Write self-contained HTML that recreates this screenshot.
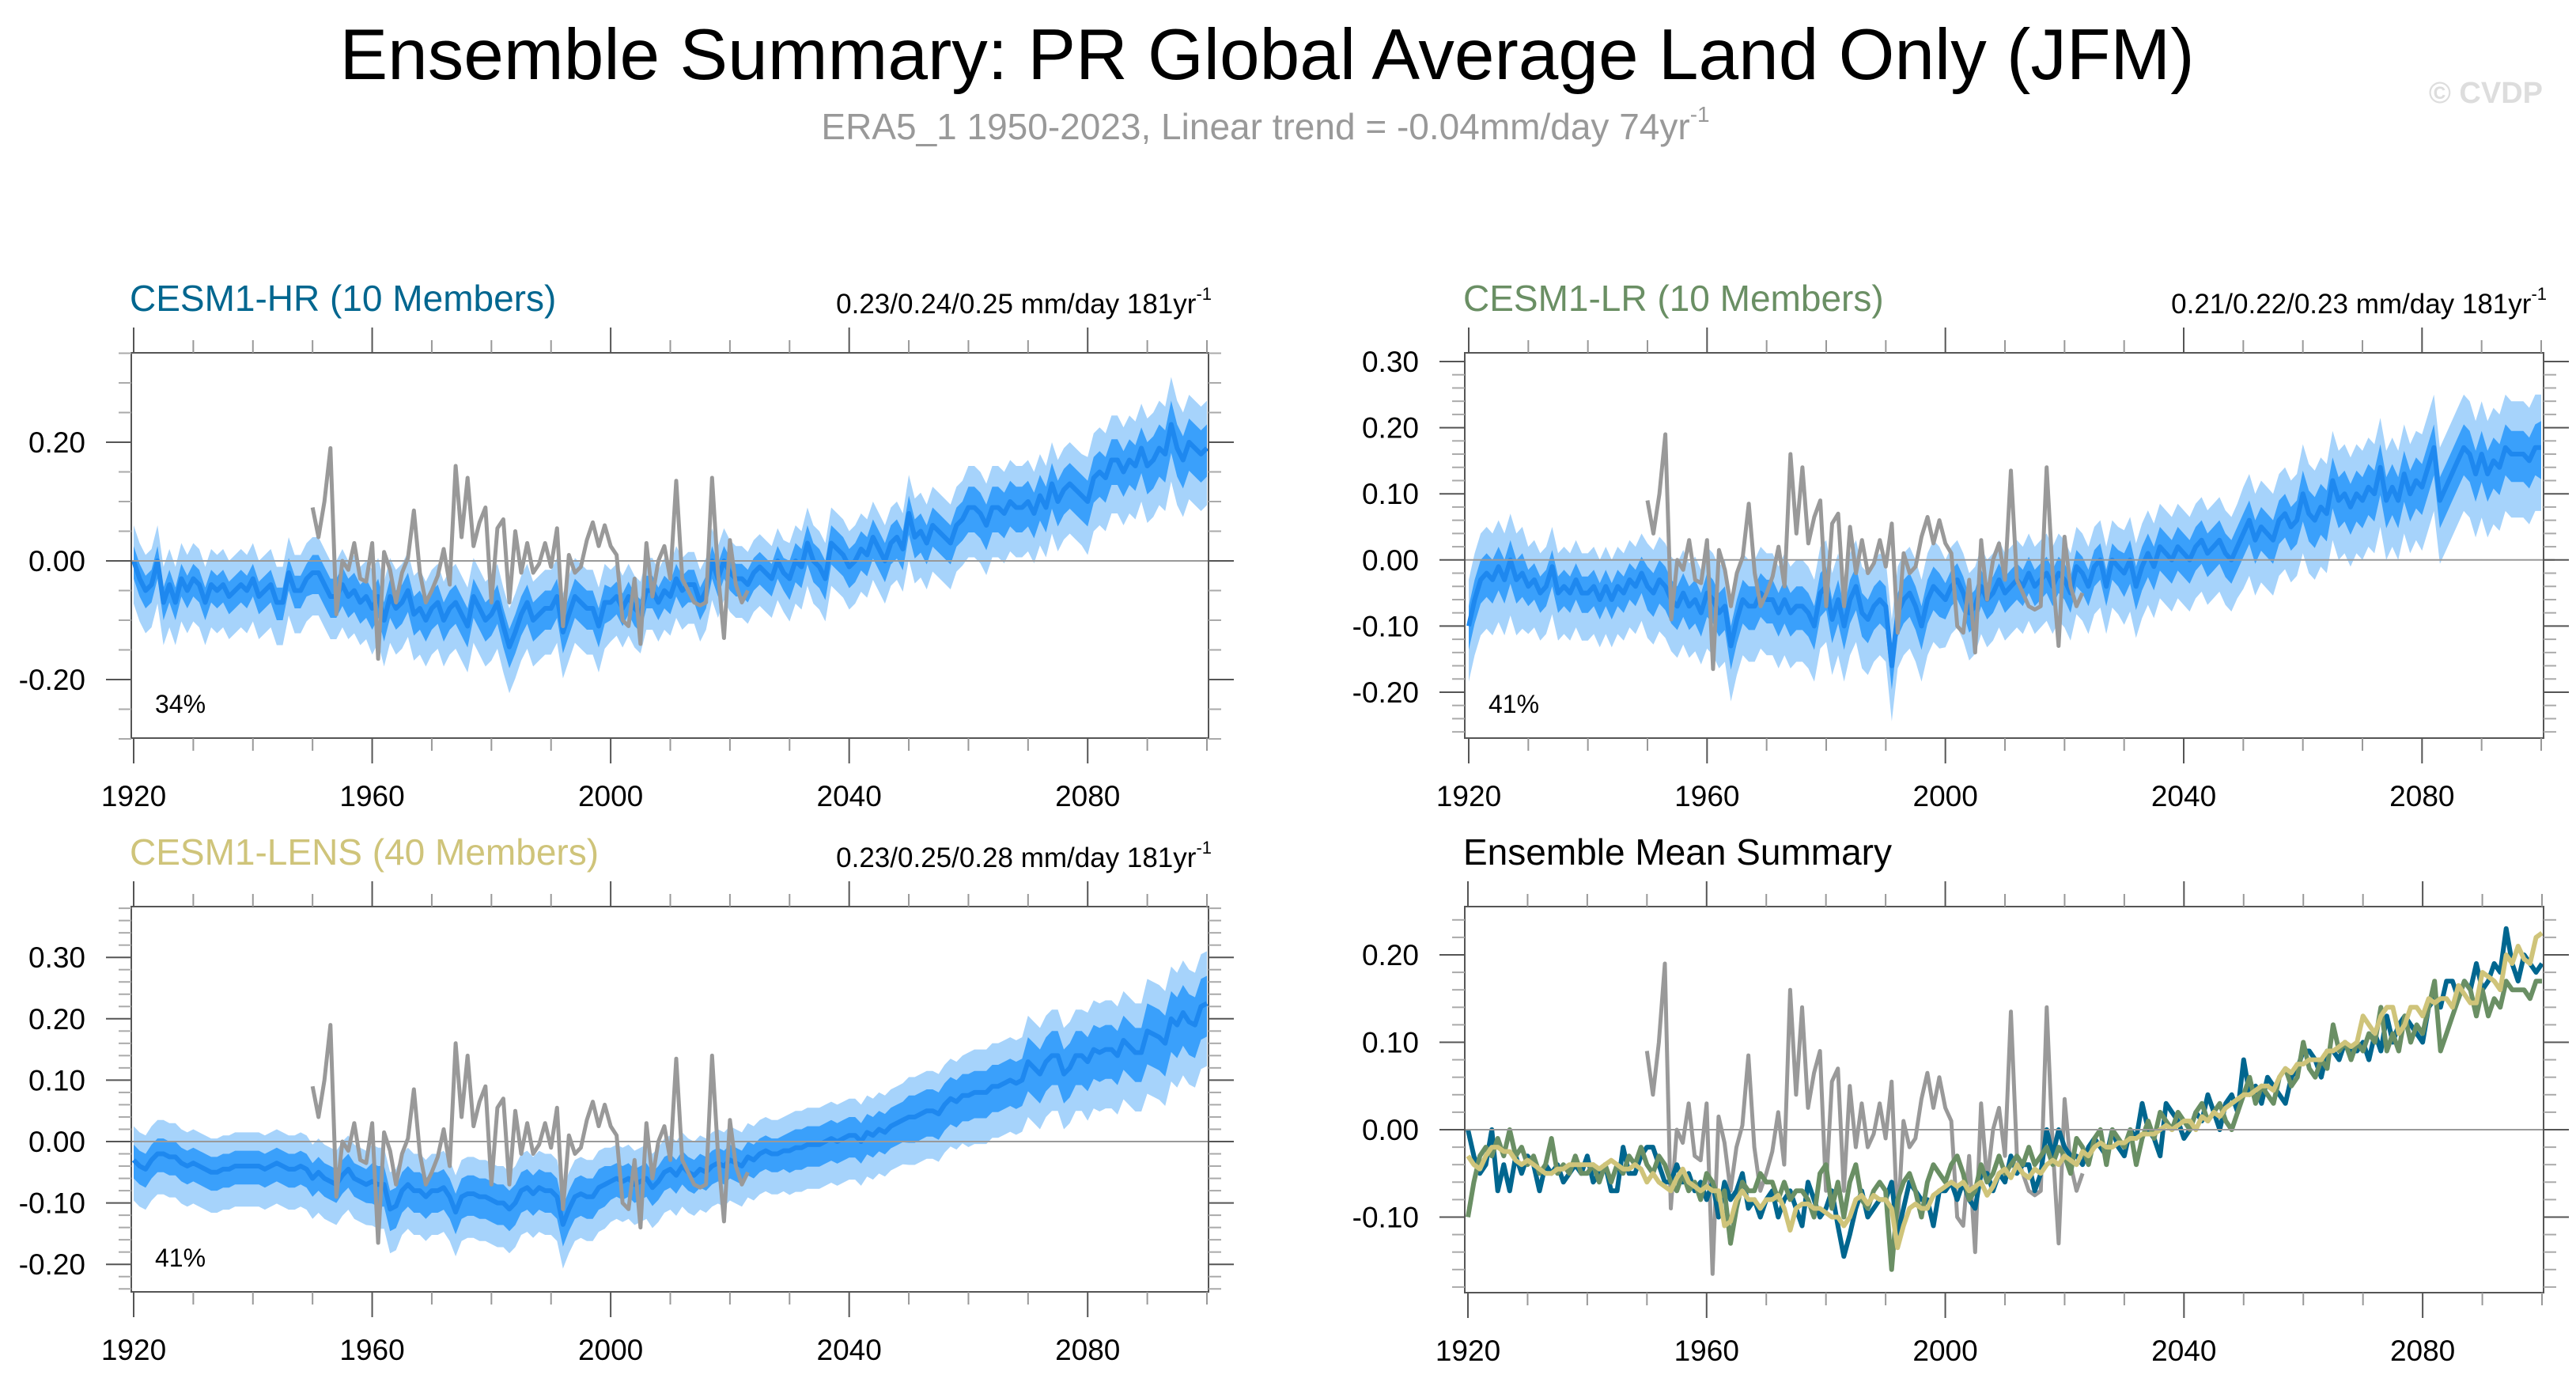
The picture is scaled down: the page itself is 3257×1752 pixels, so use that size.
<!DOCTYPE html>
<html><head><meta charset="utf-8">
<style>
html,body{margin:0;padding:0;background:#fff;}
svg{display:block;font-family:"Liberation Sans",Arial,sans-serif;}
</style></head>
<body>
<svg id="chart" xmlns="http://www.w3.org/2000/svg" width="3257" height="1752" viewBox="0 0 3257 1752">
<rect x="0" y="0" width="3257" height="1752" fill="#fff"/>
<text x="1602" y="100" font-size="91" text-anchor="middle" fill="#000">Ensemble Summary: PR Global Average Land Only (JFM)</text>
<text x="1600" y="176" font-size="46" text-anchor="middle" fill="#999">ERA5_1 1950-2023, Linear trend = -0.04mm/day 74yr<tspan font-size="28" dy="-22">-1</tspan></text>
<text x="3215" y="130" font-size="38" font-weight="bold" text-anchor="end" fill="#ddd">© CVDP</text>
<g id="panels"></g>
</svg>
<script>
// ---- data (mm/day anomalies) ----
const startYear = 1920;
const hrMean = [0.00,-0.03,-0.05,-0.04,0.00,-0.07,-0.04,-0.07,-0.03,-0.05,
-0.03,-0.04,-0.07,-0.04,-0.05,-0.04,-0.06,-0.05,-0.04,-0.05,
-0.03,-0.06,-0.05,-0.04,-0.07,-0.07,-0.02,-0.05,-0.05,-0.03,
-0.02,-0.02,-0.04,-0.06,-0.06,-0.04,-0.06,-0.05,-0.07,-0.06,
-0.08,-0.06,-0.10,-0.06,-0.08,-0.07,-0.05,-0.09,-0.08,-0.10,
-0.08,-0.07,-0.10,-0.08,-0.07,-0.09,-0.11,-0.06,-0.08,-0.10,
-0.09,-0.07,-0.11,-0.145,-0.12,-0.09,-0.07,-0.10,-0.09,-0.08,
-0.08,-0.06,-0.12,-0.09,-0.06,-0.07,-0.08,-0.08,-0.11,-0.07,
-0.07,-0.06,-0.08,-0.06,-0.08,-0.09,-0.05,-0.05,-0.07,-0.05,
-0.06,-0.03,-0.05,-0.04,-0.04,-0.07,-0.05,0.00,-0.03,0.00,
-0.02,-0.03,-0.03,-0.04,-0.02,-0.01,-0.02,-0.03,0.00,-0.02,
-0.03,0.00,-0.01,0.03,0.00,-0.01,-0.03,0.03,0.02,0.01,
-0.01,0.00,0.02,0.01,0.04,0.02,0.00,0.03,0.04,0.02,
0.08,0.04,0.05,0.03,0.06,0.05,0.04,0.03,0.06,0.07,
0.09,0.09,0.08,0.06,0.09,0.09,0.08,0.10,0.09,0.09,
0.10,0.08,0.11,0.09,0.13,0.10,0.12,0.13,0.12,0.11,
0.10,0.14,0.15,0.14,0.17,0.17,0.15,0.17,0.16,0.19,
0.16,0.17,0.19,0.18,0.23,0.19,0.17,0.20,0.19,0.18,
0.19];
const lrMean = [-0.10,-0.06,-0.03,-0.02,-0.03,-0.01,-0.03,0.00,-0.03,-0.02,
-0.04,-0.03,-0.05,-0.04,-0.01,-0.05,-0.04,-0.05,-0.03,-0.05,
-0.05,-0.04,-0.06,-0.04,-0.06,-0.04,-0.05,-0.03,-0.04,-0.02,
-0.04,-0.05,-0.03,-0.04,-0.06,-0.07,-0.05,-0.07,-0.06,-0.08,
-0.05,-0.06,-0.08,-0.07,-0.13,-0.09,-0.06,-0.07,-0.07,-0.05,
-0.06,-0.06,-0.08,-0.06,-0.08,-0.07,-0.07,-0.08,-0.10,-0.05,
-0.04,-0.09,-0.06,-0.10,-0.06,-0.04,-0.08,-0.09,-0.07,-0.06,
-0.07,-0.16,-0.08,-0.06,-0.05,-0.07,-0.10,-0.06,-0.04,-0.05,
-0.06,-0.04,-0.03,-0.05,-0.08,-0.07,-0.04,-0.06,-0.05,-0.03,
-0.05,-0.04,-0.03,-0.04,-0.02,-0.04,-0.03,-0.02,-0.04,-0.02,
-0.03,-0.05,-0.01,-0.02,-0.04,-0.01,0.00,-0.04,0.00,-0.01,
-0.02,0.00,-0.04,-0.01,0.01,-0.01,0.02,0.01,0.00,0.02,
0.01,0.00,0.02,0.03,0.01,0.02,0.03,0.01,0.00,0.02,
0.04,0.06,0.03,0.05,0.04,0.03,0.06,0.07,0.05,0.06,
0.10,0.07,0.06,0.08,0.07,0.12,0.09,0.10,0.08,0.10,
0.09,0.11,0.10,0.14,0.09,0.11,0.09,0.13,0.10,0.12,
0.11,0.14,0.17,0.09,0.11,0.13,0.15,0.17,0.16,0.13,
0.16,0.13,0.15,0.14,0.17,0.16,0.16,0.16,0.15,0.17,
0.17];
const lensMean = [-0.03,-0.04,-0.045,-0.03,-0.02,-0.02,-0.025,-0.025,-0.035,-0.04,
-0.035,-0.04,-0.045,-0.05,-0.05,-0.045,-0.045,-0.04,-0.04,-0.04,
-0.04,-0.04,-0.045,-0.04,-0.035,-0.04,-0.045,-0.045,-0.04,-0.045,
-0.06,-0.05,-0.06,-0.065,-0.07,-0.055,-0.045,-0.06,-0.065,-0.07,
-0.065,-0.07,-0.07,-0.11,-0.105,-0.08,-0.07,-0.08,-0.08,-0.09,
-0.08,-0.08,-0.075,-0.09,-0.115,-0.09,-0.085,-0.085,-0.09,-0.09,
-0.095,-0.10,-0.10,-0.11,-0.10,-0.08,-0.075,-0.085,-0.075,-0.08,
-0.08,-0.09,-0.135,-0.11,-0.09,-0.085,-0.09,-0.09,-0.075,-0.07,
-0.065,-0.06,-0.065,-0.06,-0.07,-0.065,-0.06,-0.075,-0.065,-0.05,
-0.045,-0.055,-0.04,-0.05,-0.055,-0.045,-0.05,-0.04,-0.035,-0.04,
-0.03,-0.035,-0.04,-0.025,-0.03,-0.02,-0.015,-0.02,-0.02,-0.015,
-0.015,-0.01,-0.01,-0.005,-0.005,-0.005,0.00,0.005,0.00,0.005,
0.01,0.01,0.00,0.015,0.01,0.02,0.015,0.025,0.03,0.035,
0.04,0.04,0.045,0.05,0.05,0.045,0.06,0.07,0.065,0.075,
0.075,0.08,0.08,0.08,0.09,0.09,0.095,0.10,0.095,0.10,
0.13,0.12,0.11,0.13,0.14,0.14,0.11,0.12,0.14,0.14,
0.13,0.15,0.145,0.15,0.15,0.14,0.165,0.155,0.145,0.145,
0.18,0.175,0.17,0.16,0.20,0.19,0.21,0.195,0.19,0.22,
0.225];
const obsStart = 1950;
const obsValues = [0.09,0.04,0.10,0.19,-0.09,0.00,-0.015,0.03,-0.03,-0.035,
0.03,-0.165,0.015,-0.015,-0.07,-0.02,0.005,0.085,-0.02,-0.07,
-0.05,-0.025,0.02,-0.04,0.16,0.04,0.14,0.025,0.065,0.09,
-0.07,0.055,0.07,-0.07,0.05,-0.02,0.03,-0.02,-0.005,0.03,
-0.01,0.055,-0.11,0.01,-0.02,-0.01,0.035,0.065,0.025,0.06,
0.025,0.01,-0.10,-0.11,-0.03,-0.14,0.03,-0.06,0.00,0.025,
-0.03,0.135,-0.03,-0.05,-0.07,-0.075,-0.07,0.14,-0.02,-0.13,
0.035,-0.04,-0.07,-0.05];
// per-decade half-widths of ensemble spread (inner ~ interquartile, outer ~ full range)
const hrInnerW = [0.025,0.025,0.025,0.03,0.03,0.03,0.03,0.03,0.025,0.025,0.025,0.03,0.03,0.03,0.035,0.035,0.035,0.04,0.04];
const hrOuterW = [0.06,0.06,0.06,0.06,0.065,0.065,0.065,0.065,0.055,0.055,0.055,0.06,0.06,0.065,0.07,0.07,0.075,0.08,0.08];
const lrInnerW = [0.03,0.025,0.025,0.03,0.03,0.03,0.03,0.03,0.025,0.025,0.025,0.03,0.03,0.03,0.035,0.035,0.035,0.035,0.04];
const lrOuterW = [0.07,0.06,0.06,0.065,0.07,0.07,0.07,0.07,0.06,0.06,0.06,0.065,0.065,0.07,0.075,0.075,0.08,0.08,0.08];
const lensInnerW = [0.025,0.025,0.025,0.025,0.03,0.03,0.03,0.03,0.025,0.025,0.025,0.03,0.03,0.035,0.035,0.04,0.04,0.045,0.045];
const lensOuterW = [0.055,0.055,0.055,0.055,0.06,0.06,0.06,0.06,0.055,0.055,0.055,0.06,0.06,0.065,0.07,0.075,0.08,0.085,0.085];
const xTickYears = [1920,1960,2000,2040,2080];

// ---- layout ----
const NS = "http://www.w3.org/2000/svg";
const root = document.getElementById('panels');
function mk(tag, attrs, parent){ const e=document.createElementNS(NS,tag); for(const k in attrs) e.setAttribute(k,attrs[k]); (parent||root).appendChild(e); return e; }

const panels = [
 {id:'hr', title:'CESM1-HR (10 Members)', tcolor:'#00668f', trend:'0.23/0.24/0.25 mm/day 181yr', pct:'34%',
  box:[166,1528,446,933], xa:169, xb:1526, zeroY:709, ppu:750, ylabels:[-0.2,0,0.2], minor:0.05, ymin:-0.3, ymax:0.35,
  mean:hrMean, inner:hrInnerW, outer:hrOuterW},
 {id:'lr', title:'CESM1-LR (10 Members)', tcolor:'#6a8f64', trend:'0.21/0.22/0.23 mm/day 181yr', pct:'41%',
  box:[1852,3216,446,933], xa:1857, xb:3213, zeroY:707.8, ppu:836, ylabels:[-0.2,-0.1,0,0.1,0.2,0.3], minor:0.02, ymin:-0.26, ymax:0.31,
  mean:lrMean, inner:lrInnerW, outer:lrOuterW},
 {id:'lens', title:'CESM1-LENS (40 Members)', tcolor:'#cfc47a', trend:'0.23/0.25/0.28 mm/day 181yr', pct:'41%',
  box:[166,1528,1146,1633], xa:169, xb:1526, zeroY:1443, ppu:776, ylabels:[-0.2,-0.1,0,0.1,0.2,0.3], minor:0.02, ymin:-0.24, ymax:0.38,
  mean:lensMean, inner:lensInnerW, outer:lensOuterW},
 {id:'summary', title:'Ensemble Mean Summary', tcolor:'#000', trend:null, pct:null,
  box:[1852,3216,1146,1634], xa:1856, xb:3214, zeroY:1428, ppu:1105, ylabels:[-0.1,0,0.1,0.2], minor:0.02, ymin:-0.18, ymax:0.25}
];

panels.forEach(p=>{
  const g = mk('g',{});
  
  
  const [L,R,T,B] = p.box;
  const X = yr => p.xa + (yr-1920)*(p.xb-p.xa)/180;
  const Y = v => p.zeroY - v*p.ppu;
  const clipId='clip-'+p.id;
  const cp = mk('clipPath',{id:clipId},g); mk('rect',{x:L,y:T,width:R-L,height:B-T},cp);
  const plot = mk('g',{'clip-path':'url(#'+clipId+')'},g);

  const zl = mk('line',{x1:L,x2:R+14,y1:Y(0),y2:Y(0),stroke:'#999','stroke-width':2},g);
  
  

  const ptsLine = (arr, y0) => arr.map((v,i)=>X(y0+i).toFixed(1)+','+Y(v).toFixed(1)).join(' ');
  if(p.mean){
    const n=p.mean.length;
    const band=(w)=>{
      const up=[],lo=[];
      for(let i=0;i<n;i++){ const d=w[Math.floor(i/10)]; up.push(X(1920+i).toFixed(1)+','+Y(p.mean[i]+d).toFixed(1)); }
      for(let i=n-1;i>=0;i--){ const d=w[Math.floor(i/10)]; lo.push(X(1920+i).toFixed(1)+','+Y(p.mean[i]-d*1.2).toFixed(1)); }
      return up.concat(lo).join(' ');
    };
    const ob = mk('polygon',{points:band(p.outer),fill:'#a6d3fb'},plot);
    
    
    const ib = mk('polygon',{points:band(p.inner),fill:'#3aa0fb'},plot);
    
    
    const ml = mk('polyline',{points:ptsLine(p.mean,1920),fill:'none',stroke:'#1e88ef','stroke-width':6,'stroke-linejoin':'round'},plot);
    
    
    const obl = mk('polyline',{points:ptsLine(obsValues,obsStart),fill:'none',stroke:'#999','stroke-width':5,'stroke-linejoin':'round'},plot);
    
    
  } else {
    const obl = mk('polyline',{points:ptsLine(obsValues,obsStart),fill:'none',stroke:'#999','stroke-width':5,'stroke-linejoin':'round'},plot);
    
    
    const l1 = mk('polyline',{points:ptsLine(hrMean,1920),fill:'none',stroke:'#00668f','stroke-width':6,'stroke-linejoin':'round'},plot);
    
    
    const l2 = mk('polyline',{points:ptsLine(lrMean,1920),fill:'none',stroke:'#6a8f64','stroke-width':6,'stroke-linejoin':'round'},plot);
    
    
    const l3 = mk('polyline',{points:ptsLine(lensMean,1920),fill:'none',stroke:'#cfc47a','stroke-width':6,'stroke-linejoin':'round'},plot);
    
    
  }

  const fr = mk('rect',{x:L,y:T,width:R-L,height:B-T,fill:'none',stroke:'#555','stroke-width':2},g);
  
  

  for(let yr=1920; yr<=2100; yr+=10){
    const major = xTickYears.includes(yr);
    const len = major?32:16, x=X(yr), c=major?'#555':'#999';
    mk('line',{x1:x,x2:x,y1:T,y2:T-len,stroke:c,'stroke-width':2},g);
    mk('line',{x1:x,x2:x,y1:B,y2:B+len,stroke:c,'stroke-width':2},g);
  }
  xTickYears.forEach(yr=>{
    const t = mk('text',{x:X(yr),y:B+86,'font-size':37,'text-anchor':'middle',fill:'#000'},g);
    t.textContent = yr;
    
    
  });
  const nMin = Math.ceil(p.ymin/p.minor-1e-6), nMax=Math.floor(p.ymax/p.minor+1e-6);
  for(let k=nMin;k<=nMax;k++){
    const v=k*p.minor, y=Y(v);
    if(y<T-2||y>B+2) continue;
    const major = p.ylabels.some(l=>Math.abs(l-v)<1e-6) || (p.id==='hr' && Math.abs(v*10-Math.round(v*10))<1e-6 && Math.round(v*10)%2===0);
    const len = major?32:16, c=major?'#555':'#aaa';
    mk('line',{x1:L,x2:L-len,y1:y,y2:y,stroke:c,'stroke-width':2},g);
    mk('line',{x1:R,x2:R+len,y1:y,y2:y,stroke:c,'stroke-width':2},g);
  }
  p.ylabels.forEach(v=>{
    const t = mk('text',{x:L-58,y:Y(v)+13,'font-size':37,'text-anchor':'end',fill:'#000'},g);
    t.textContent = v.toFixed(2);
    
    
  });
  const tt = mk('text',{x:L-2,y:T-53,'font-size':46,fill:p.tcolor},g);
  tt.textContent = p.title;
  
  
  if(p.trend){
    const tr = mk('text',{x:R+4,y:T-50,'font-size':35,'text-anchor':'end',fill:'#000'},g);
    tr.textContent = p.trend;
    const sup = mk('tspan',{'font-size':22,dy:-17},tr); sup.textContent='-1';
    
    
    const pc = mk('text',{x:L+30,y:B-32,'font-size':32,fill:'#000'},g);
    pc.textContent = p.pct;
    
    
  }
});
</script>
</body></html>
